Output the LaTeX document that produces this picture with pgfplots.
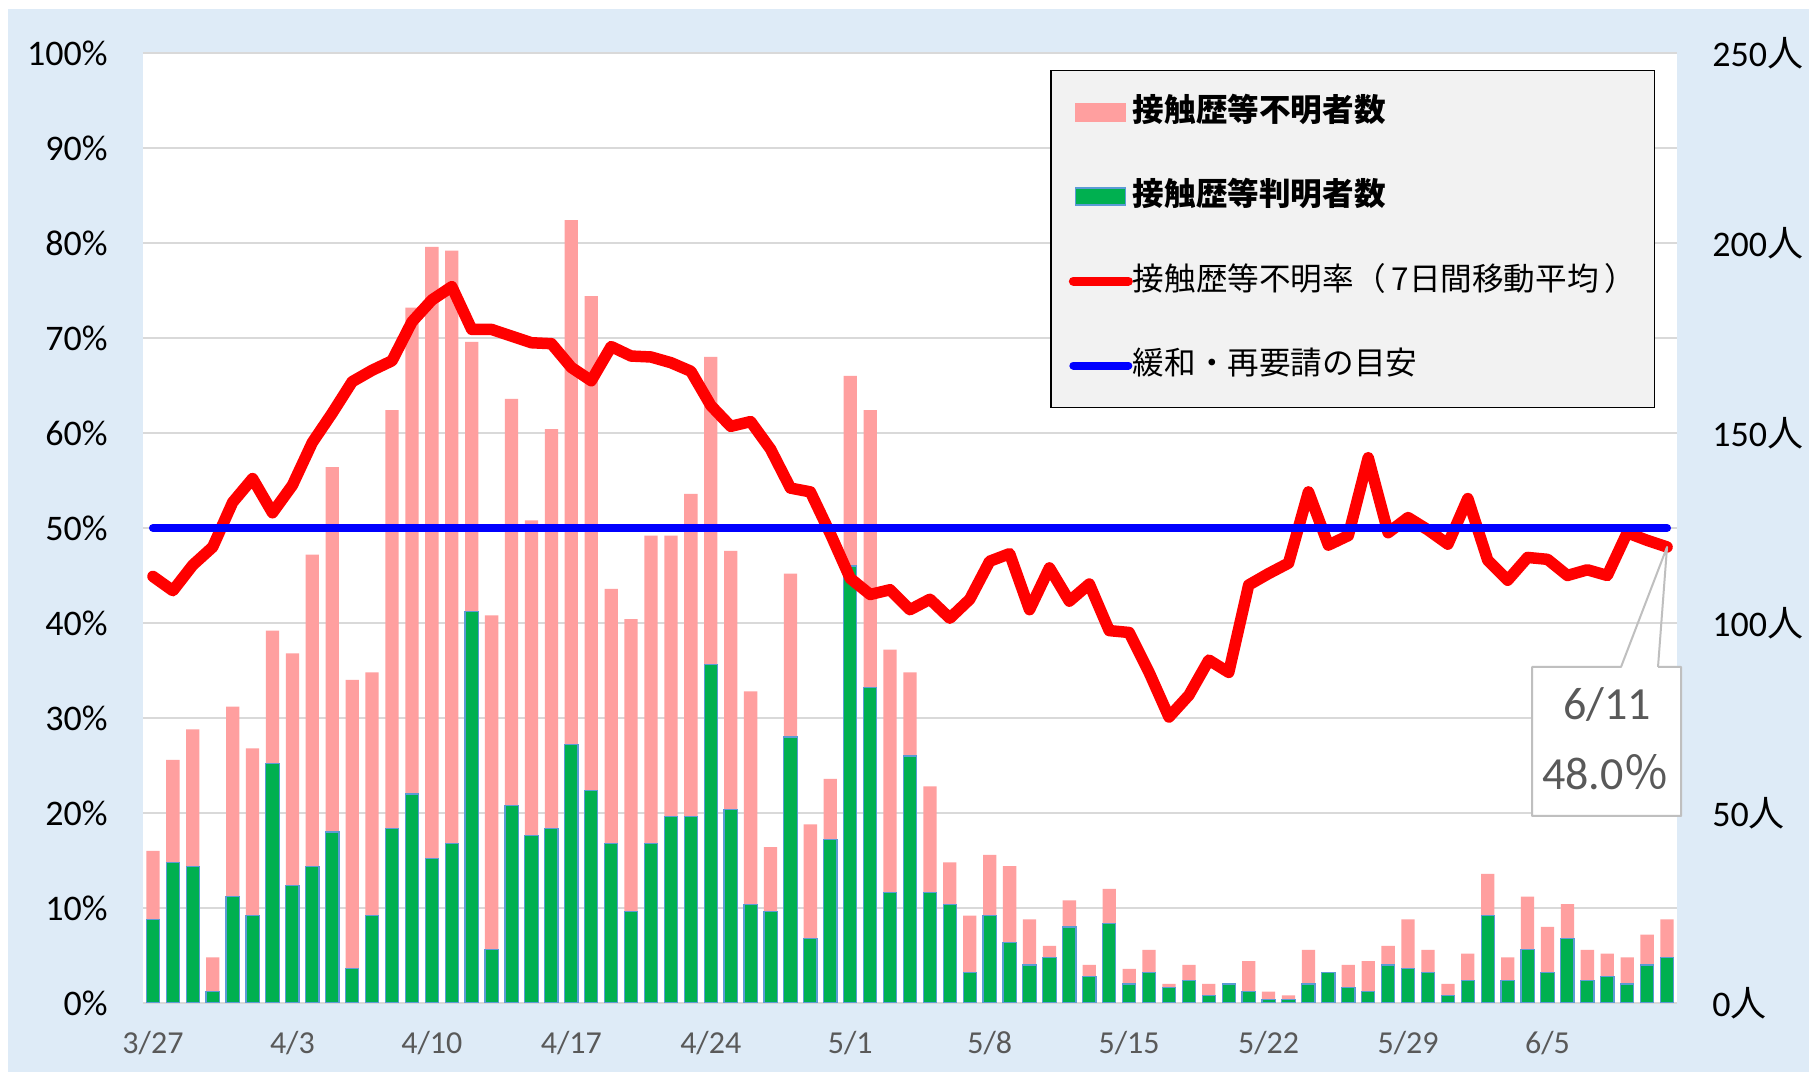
\documentclass[border=0pt]{standalone}
\usepackage{pgfplots}
\usepackage{pgfplotstable}
\pgfplotsset{compat=1.18}
\usepackage{fontspec}
\setmainfont{Carlito}
\newfontfamily\jp{Noto Sans CJK JP}
\definecolor{bgblue}{HTML}{DEEBF7}
\definecolor{pinkbar}{HTML}{FF9F9F}
\definecolor{greenbar}{HTML}{00B050}
\definecolor{greenedge}{HTML}{5B9BD5}
\definecolor{gridgray}{HTML}{D9D9D9}
\definecolor{labgray}{HTML}{595959}
\definecolor{leggray}{HTML}{F2F2F2}
\definecolor{callgray}{HTML}{BFBFBF}

\pgfplotstableread{
day known unknown
0 22 18
1 37 27
2 36 36
3 3 9
4 28 50
5 23 44
6 63 35
7 31 61
8 36 82
9 45 96
10 9 76
11 23 64
12 46 110
13 55 128
14 38 161
15 42 156
16 103 71
17 14 88
18 52 107
19 44 83
20 46 105
21 68 138
22 56 130
23 42 67
24 24 77
25 42 81
26 49 74
27 49 85
28 89 81
29 51 68
30 26 56
31 24 17
32 70 43
33 17 30
34 43 16
35 115 50
36 83 73
37 29 64
38 65 22
39 29 28
40 26 11
41 8 15
42 23 16
43 16 20
44 10 12
45 12 3
46 20 7
47 7 3
48 21 9
49 5 4
50 8 6
51 4 1
52 6 4
53 2 3
54 5 0
55 3 8
56 1 2
57 1 1
58 5 9
59 8 0
60 4 6
61 3 8
62 10 5
63 9 13
64 8 6
65 2 3
66 6 7
67 23 11
68 6 6
69 14 14
70 8 12
71 17 9
72 6 8
73 7 6
74 5 7
75 10 8
76 12 10
}\bars

\pgfplotstableread{
day rate
0 44.9
1 43.4
2 46.1
3 48.0
4 52.7
5 55.2
6 51.6
7 54.5
8 59.0
9 62.1
10 65.4
11 66.6
12 67.6
13 71.7
14 74.0
15 75.4
16 70.9
17 70.9
18 70.2
19 69.5
20 69.4
21 66.9
22 65.5
23 69.1
24 68.1
25 68.0
26 67.4
27 66.5
28 62.9
29 60.7
30 61.2
31 58.3
32 54.2
33 53.8
34 49.4
35 44.7
36 43.0
37 43.5
38 41.4
39 42.5
40 40.5
41 42.5
42 46.5
43 47.3
44 41.4
45 45.8
46 42.3
47 44.1
48 39.2
49 39.0
50 34.8
51 30.1
52 32.4
53 36.1
54 34.8
55 44.0
56 45.2
57 46.3
58 53.8
59 48.2
60 49.2
61 57.4
62 49.5
63 51.1
64 49.8
65 48.3
66 53.1
67 46.6
68 44.5
69 46.9
70 46.7
71 45.0
72 45.6
73 45.0
74 49.5
75 48.7
76 48.0
}\rate

\begin{document}
\begin{tikzpicture}
\fill[white] (0,0) rectangle (908bp,537.5bp);
\fill[bgblue] (4bp,1.5bp) rectangle (904.5bp,533bp);
\begin{axis}[
  at={(71.5bp,36bp)}, anchor=south west,
  scale only axis, width=767bp, height=475bp,
  xmin=-0.5, xmax=76.5, ymin=0, ymax=250,
  axis background/.style={fill=white},
  axis line style={draw=none},
  major tick length=0pt,
  axis y line*=right,
  axis x line*=bottom,
  ytick={0,25,...,250},
  yticklabels={0{\jp 人},,50{\jp 人},,100{\jp 人},,150{\jp 人},,200{\jp 人},,250{\jp 人}},
  ymajorgrids,
  grid style={gridgray, line width=1bp},
  yticklabel style={anchor=west, inner sep=0pt, xshift=17.5bp, font=\fontsize{18bp}{20bp}\selectfont},
  xtick={0,7,...,70},
  xticklabels={3/27,4/3,4/10,4/17,4/24,5/1,5/8,5/15,5/22,5/29,6/5},
  xticklabel style={anchor=center, inner sep=0pt, yshift=-20bp, text=labgray, font=\fontsize{16bp}{18bp}\selectfont},
  ybar stacked, bar width=0.667,
]
\addplot[fill=greenbar, draw=greenedge, line width=0.6bp] table[x=day,y=known]{\bars};
\addplot[fill=pinkbar, draw=none] table[x=day,y=unknown]{\bars};
\end{axis}
\begin{axis}[
  at={(71.5bp,36bp)}, anchor=south west,
  scale only axis, width=767bp, height=475bp,
  xmin=-0.5, xmax=76.5, ymin=0, ymax=100,
  axis line style={draw=none},
  major tick length=0pt,
  axis y line*=left,
  axis x line=none,
  ytick={0,10,...,100},
  yticklabels={0\%,10\%,20\%,30\%,40\%,50\%,60\%,70\%,80\%,90\%,100\%},
  yticklabel style={anchor=east, inner sep=0pt, xshift=-17.5bp, font=\fontsize{18bp}{20bp}\selectfont},
  legend cell align=left,
  legend style={at={(0.5913,0.9826)}, anchor=north west, fill=leggray, draw=black, line width=0.8bp,
    inner xsep=9bp, inner ysep=13.5bp, row sep=27.2bp, column sep=0bp,
    font=\jp\fontsize{15.8bp}{18bp}\selectfont,
    nodes={inner sep=0pt, text height=12bp, text depth=3bp, anchor=west}},
]
\addlegendimage{legend image code/.code={\fill[pinkbar] (2bp,-4.25bp) rectangle (27bp,4.25bp);}}
\addlegendentry{\bfseries 接触歴等不明者数}
\addlegendimage{legend image code/.code={\filldraw[fill=greenbar, draw=greenedge, line width=0.8bp] (2bp,-4.25bp) rectangle (27bp,4.25bp);}}
\addlegendentry{\bfseries 接触歴等判明者数}
\addplot[red, line width=5.75bp, line cap=round, line join=round,
  legend image code/.code={\draw[red, line width=4.5bp, line cap=round] (1bp,0bp) -- (28.5bp,0bp);}]
  table[x=day,y=rate]{\rate};
\addlegendentry{接触歴等不明率（\hspace{3bp}7日間移動平均\hspace{3bp}）}
\addplot[blue, line width=4bp, line cap=round,
  legend image code/.code={\draw[blue, line width=4bp, line cap=round] (1bp,0bp) -- (28.5bp,0bp);}]
  coordinates {(0,50) (76,50)};
\addlegendentry{緩和・再要請の目安}
\coordinate (pt) at (axis cs:76,48);
\end{axis}
\fill[white] (766bp,129.5bp) rectangle (840.5bp,204bp);
\draw[callgray, line width=1bp, line join=round] (829bp,204bp) -- (840.5bp,204bp) -- (840.5bp,129.5bp) -- (766bp,129.5bp) -- (766bp,204bp) -- (810.5bp,204bp) -- (pt) -- (829bp,204bp);
\node[text=labgray, font=\fontsize{23bp}{26bp}\selectfont, inner sep=0pt] at (803.5bp,185bp) {6/11};
\node[text=labgray, font=\fontsize{23bp}{26bp}\selectfont, inner sep=0pt] at (803bp,151.5bp) {48.0{\jp ％}};
\end{tikzpicture}
\end{document}
